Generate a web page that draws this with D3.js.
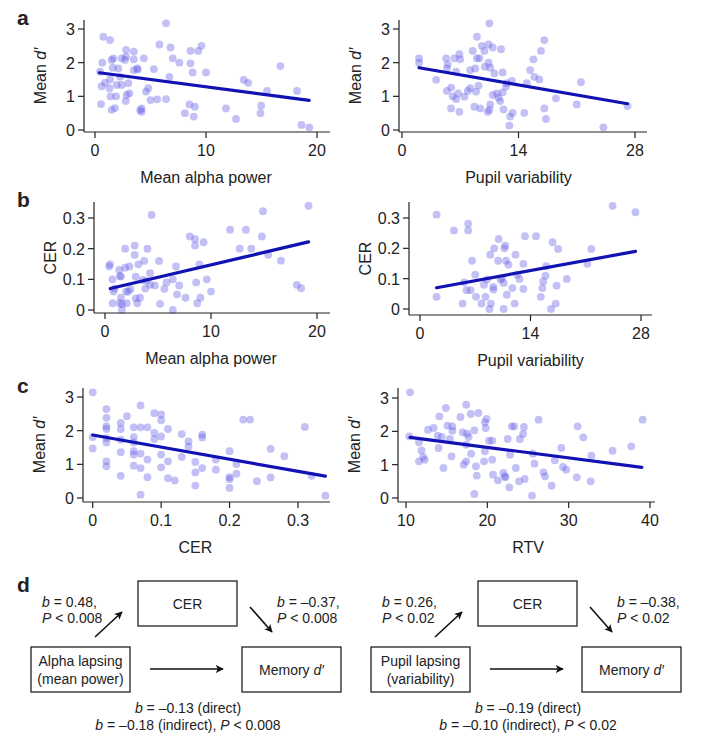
<!DOCTYPE html>
<html>
<head>
<meta charset="utf-8">
<script src="https://cdn.jsdelivr.net/npm/d3@7"></script>
<style>
body { margin: 0; background: #fff; }
text { font-family: "Liberation Sans", Arial, sans-serif; fill: #222; }
</style>
</head>
<body>
<script>
// data: [x, y]
var alphaDprime = [[0.75,2.77],[1.36,2.67],[0.66,2.0],[0.45,1.73],[0.6,1.3],[0.9,1.4],[1.36,1.5],[1.3,1.24],[1.4,1.0],[1.5,0.6],[1.8,0.65],[0.54,0.77],[1.5,2.08],[1.66,2.13],[1.6,1.85],[2.1,1.83],[1.96,1.34],[2.4,1.34],[2.26,1.58],[1.9,1.0],[2.4,2.13],[2.8,2.38],[2.8,2.18],[2.7,2.08],[3.5,2.33],[3.5,2.1],[3.0,1.39],[2.85,1.04],[3.1,1.09],[2.77,0.86],[3.5,1.78],[3.8,1.83],[3.86,1.8],[4.07,0.59],[4.2,0.64],[4.2,0.54],[4.4,2.13],[4.6,1.14],[4.8,1.24],[5.0,0.89],[5.6,0.91],[5.3,1.81],[5.8,2.54],[6.4,3.17],[6.4,0.92],[6.8,2.45],[7.0,2.13],[6.7,1.58],[7.6,2.0],[8.1,0.5],[8.5,0.76],[9.0,0.69],[8.9,0.4],[8.6,2.35],[8.6,1.98],[8.8,1.71],[9.3,2.35],[9.6,2.5],[10,1.71],[11.8,0.64],[12.7,0.33],[13.4,1.49],[13.8,1.4],[14.9,0.5],[14.97,0.72],[15.5,1.16],[16.7,1.9],[18.2,1.16],[18.6,0.15],[19.3,0.08]];
var pupilDprime = [[2.05,2.13],[2.05,2.0],[4.1,1.49],[5.3,2.13],[5.5,1.95],[5.4,1.83],[6.3,2.13],[6.9,2.25],[7.0,2.1],[6.5,1.73],[5.4,1.16],[5.9,1.26],[6.1,1.0],[6.5,0.92],[6.75,1.09],[5.9,0.64],[6.9,0.54],[7.5,0.99],[7.9,1.16],[8.2,1.24],[8.5,2.35],[9.0,2.77],[9.0,2.13],[9.3,2.13],[8.8,1.83],[8.2,1.78],[9.2,1.32],[8.9,1.14],[8.7,0.69],[9.4,0.64],[9.6,2.5],[9.9,2.35],[10.4,2.54],[10.5,3.17],[10.9,2.45],[9.96,1.88],[10.4,2.0],[10.6,1.85],[11.1,1.68],[10.6,0.76],[10.3,0.54],[10.5,0.6],[10.9,1.04],[11.4,1.09],[11.6,0.96],[11.8,0.86],[12.1,1.12],[11.9,2.4],[12.1,1.71],[12.6,1.39],[12.5,1.29],[12.2,0.61],[13.0,0.4],[13.3,0.51],[12.9,0.13],[13.2,1.46],[14.7,0.51],[15.0,1.39],[15.4,1.78],[15.9,1.58],[15.8,2.1],[16.5,1.5],[16.7,2.35],[17.1,2.67],[17.1,0.64],[17.3,0.33],[18.5,0.94],[21.0,0.76],[21.5,1.42],[24.2,0.08],[27.1,0.71]];
var alphaCER = [[0.47,0.149],[0.4,0.142],[0.7,0.1],[1.35,0.131],[1.4,0.111],[1.5,0.109],[1.9,0.138],[2.3,0.142],[1.9,0.2],[2.8,0.21],[2.8,0.18],[0.8,0.06],[0.9,0.07],[0.72,0.022],[1.4,0.022],[1.6,0.019],[1.6,0],[1.5,0.04],[2.0,0.06],[2.2,0.06],[2.4,0.068],[2.05,0.022],[2.9,0.038],[3.05,0.022],[3.3,0.04],[2.9,0.109],[3.15,0.149],[3.7,0.16],[3.55,0.098],[3.8,0.07],[3.9,0.095],[4.0,0.2],[4.25,0.12],[4.4,0.31],[4.25,0.082],[4.7,0.08],[5.2,0.02],[5.1,0.16],[5.6,0.069],[5.8,0.09],[6.4,0.1],[6.4,0],[6.7,0.142],[6.8,0.051],[7.0,0.08],[7.6,0.04],[8.0,0.24],[8.5,0.231],[8.5,0.21],[8.6,0.09],[8.7,0.022],[8.9,0.149],[9.0,0.04],[9.3,0.221],[9.6,0.1],[10.0,0.06],[11.8,0.262],[12.7,0.2],[13.3,0.262],[13.8,0.2],[14.8,0.24],[14.9,0.322],[15.4,0.18],[16.6,0.161],[18.1,0.082],[18.5,0.071],[19.2,0.34]];
var pupilCER = [[2.1,0.311],[2.1,0.04],[4.3,0.259],[6.1,0.281],[6.1,0.259],[6.6,0.159],[5.6,0.088],[5.9,0.062],[6.4,0.062],[5.4,0.018],[7.0,0.113],[7.1,0.04],[7.8,0.018],[8.1,0.08],[8.5,0.097],[8.3,0.04],[8.9,0.179],[8.8,0],[8.99,0.018],[9.3,0.064],[9.3,0.073],[9.4,0.2],[9.97,0.231],[9.9,0.159],[10.2,0.097],[10.4,0.102],[10.6,0.086],[10.6,0],[10.8,0.209],[10.7,0.2],[10.9,0.159],[11.2,0.146],[11.0,0.047],[11.7,0.069],[12.1,0.179],[12.0,0.018],[12.3,0.113],[12.6,0.099],[13.1,0.149],[13.1,0.066],[13.3,0.24],[14.7,0.24],[15.3,0.04],[15.5,0.069],[15.6,0.091],[15.9,0.11],[16.0,0.141],[16.6,0],[16.8,0.22],[17.2,0.018],[17.3,0.077],[17.5,0.198],[18.6,0.099],[21.2,0.149],[21.7,0.198],[24.4,0.34],[27.3,0.319]];
var cerDprime = [[0,3.14],[0,1.81],[0,1.47],[0.02,2.64],[0.02,2.38],[0.02,2.13],[0.02,2.05],[0.02,1.78],[0.02,1.65],[0.02,1.09],[0.02,0.94],[0.041,2.23],[0.041,2.05],[0.041,1.73],[0.041,1.36],[0.041,0.66],[0.05,2.43],[0.06,2.1],[0.06,1.81],[0.06,1.65],[0.06,1.39],[0.06,1.29],[0.06,0.96],[0.07,2.75],[0.07,2.1],[0.07,1.32],[0.07,0.89],[0.07,0.1],[0.08,2.1],[0.08,1.14],[0.08,0.62],[0.09,2.52],[0.09,1.93],[0.09,1.75],[0.1,2.48],[0.1,2.31],[0.1,1.83],[0.1,1.29],[0.1,0.91],[0.11,2.05],[0.11,1.09],[0.11,0.59],[0.12,0.52],[0.13,1.9],[0.13,1.22],[0.14,1.68],[0.14,1.53],[0.15,1.07],[0.15,0.76],[0.15,0.37],[0.16,1.88],[0.16,1.8],[0.16,0.89],[0.18,1.14],[0.18,0.84],[0.2,1.39],[0.2,0.62],[0.2,0.56],[0.2,0.3],[0.21,1.01],[0.21,0.72],[0.22,2.33],[0.23,2.33],[0.24,0.5],[0.26,1.46],[0.26,0.61],[0.28,1.24],[0.31,2.11],[0.32,0.66],[0.34,0.07]];
var rtvDprime = [[10.5,3.17],[10.4,1.85],[11.6,1.67],[11.9,1.43],[12.1,1.23],[11.6,1.1],[12.3,1.15],[12.7,2.05],[13.4,2.1],[14.1,2.45],[13.9,1.87],[14.4,1.83],[14.0,1.5],[14.6,0.9],[14.9,2.7],[15.1,2.17],[15.4,1.77],[15.7,2.15],[15.7,2.02],[15.6,1.25],[16.7,2.43],[16.97,1.97],[17.4,2.8],[17.4,1.6],[17.5,1.93],[17.7,1.83],[17.4,1.1],[17.1,1.0],[17.96,2.52],[18.0,1.33],[18.4,2.03],[18.6,0.95],[18.7,0.67],[18.4,0.12],[18.9,2.55],[19.7,2.27],[19.9,2.37],[19.8,2.1],[19.7,1.4],[19.6,1.1],[20.2,1.72],[20.6,1.72],[20.6,1.15],[20.7,0.7],[21.3,0.53],[21.97,0.75],[22.2,0.65],[22.2,0.62],[22.5,1.77],[22.8,1.3],[22.7,0.32],[23.0,2.15],[23.3,2.15],[23.5,0.9],[24.0,1.77],[23.9,0.5],[24.4,1.92],[24.5,2.13],[24.6,0.57],[25.6,1.33],[25.8,1.03],[25.5,0.07],[26.3,2.35],[26.9,0.77],[27.1,0.65],[27.9,0.37],[28.3,1.13],[29.1,1.5],[29.3,0.93],[29.7,0.85],[31.0,0.62],[31.1,2.15],[31.8,1.82],[32.8,1.27],[32.7,0.5],[35.4,1.42],[37.7,1.55],[39.1,2.35]];

// regression line endpoints as drawn
var fitAlphaDprime = [[0.4,1.7],[19.3,0.88]];
var fitPupilDprime = [[2.05,1.85],[27.1,0.78]];
var fitAlphaCER = [[0.5,0.07],[19.2,0.222]];
var fitPupilCER = [[2.1,0.07],[27.3,0.19]];
var fitCerDprime = [[0,1.87],[0.34,0.65]];
var fitRtvDprime = [[10.5,1.82],[39,0.92]];

var ticksDprime = [0, 1, 2, 3];
var ticksCER = [0, 0.1, 0.2, 0.3];
var ticksAlpha = [0, 10, 20];
var ticksPupil = [0, 14, 28];
var ticksCerX = [0, 0.1, 0.2, 0.3];
var ticksRtv = [10, 20, 30, 40];

var svg = d3.select("body").append("svg").attr("width", 705).attr("height", 747);

var panels = [
  {pts: alphaDprime, fit: fitAlphaDprime, xd: [0,20], xr: [95,317], yd: [0,3], yr: [130,29], sx: 84, ax: 132, top: 20, right: 330, xt: ticksAlpha, yt: ticksDprime, xl: "Mean alpha power", yl: "d"},
  {pts: pupilDprime, fit: fitPupilDprime, xd: [0,28], xr: [402,635], yd: [0,3], yr: [130,29], sx: 399, ax: 132, top: 20, right: 647, xt: ticksPupil, yt: ticksDprime, xl: "Pupil variability", yl: "d"},
  {pts: alphaCER, fit: fitAlphaCER, xd: [0,20], xr: [105,317], yd: [0,0.3], yr: [310,218], sx: 94, ax: 313, top: 202, right: 330, xt: ticksAlpha, yt: ticksCER, xl: "Mean alpha power", yl: "CER"},
  {pts: pupilCER, fit: fitPupilCER, xd: [0,28], xr: [420,641], yd: [0,0.3], yr: [309,218], sx: 409, ax: 315, top: 202, right: 652, xt: ticksPupil, yt: ticksCER, xl: "Pupil variability", yl: "CER"},
  {pts: cerDprime, fit: fitCerDprime, xd: [0,0.3], xr: [92.7,298], yd: [0,3], yr: [498,397], sx: 83, ax: 502, top: 388, right: 330, xt: ticksCerX, yt: ticksDprime, xl: "CER", yl: "d"},
  {pts: rtvDprime, fit: fitRtvDprime, xd: [10,40], xr: [406,650], yd: [0,3], yr: [498,398], sx: 398, ax: 502, top: 388, right: 655, xt: ticksRtv, yt: ticksDprime, xl: "RTV", yl: "d"}
];

panels.forEach(function(p){
  var x = d3.scaleLinear().domain(p.xd).range(p.xr);
  var y = d3.scaleLinear().domain(p.yd).range(p.yr);
  var g = svg.append("g");

  g.selectAll("circle").data(p.pts).enter().append("circle")
    .attr("cx", function(d){ return x(d[0]); })
    .attr("cy", function(d){ return y(d[1]); })
    .attr("r", 3.9)
    .attr("fill", "rgb(110,105,230)")
    .attr("fill-opacity", 0.42);

  g.append("line")
    .attr("x1", x(p.fit[0][0])).attr("y1", y(p.fit[0][1]))
    .attr("x2", x(p.fit[1][0])).attr("y2", y(p.fit[1][1]))
    .attr("stroke", "#1212b4").attr("stroke-width", 3.2).attr("stroke-linecap", "round");

  // spines
  g.append("line").attr("x1", p.sx).attr("x2", p.sx).attr("y1", p.top).attr("y2", p.ax)
    .attr("stroke", "#222").attr("stroke-width", 1.2);
  g.append("line").attr("x1", p.sx).attr("x2", p.right).attr("y1", p.ax).attr("y2", p.ax)
    .attr("stroke", "#222").attr("stroke-width", 1.2);

  p.yt.forEach(function(t){
    g.append("line").attr("x1", p.sx - 6).attr("x2", p.sx).attr("y1", y(t)).attr("y2", y(t))
      .attr("stroke", "#222").attr("stroke-width", 1.2);
    g.append("text").attr("x", p.sx - 9).attr("y", y(t) + 6).attr("text-anchor", "end")
      .attr("font-size", 16).text(t);
  });
  p.xt.forEach(function(t){
    g.append("line").attr("x1", x(t)).attr("x2", x(t)).attr("y1", p.ax).attr("y2", p.ax + 6)
      .attr("stroke", "#222").attr("stroke-width", 1.2);
    g.append("text").attr("x", x(t)).attr("y", p.ax + 24).attr("text-anchor", "middle")
      .attr("font-size", 16).text(t);
  });
  g.append("text").attr("x", (p.xr[0] + p.xr[1]) / 2).attr("y", p.ax + 51)
    .attr("text-anchor", "middle").attr("font-size", 16).text(p.xl);

  var yt = g.append("text")
    .attr("transform", "translate(" + (p.sx - 38) + "," + ((p.top + p.ax) / 2) + ") rotate(-90)")
    .attr("text-anchor", "middle").attr("font-size", 16);
  if (p.yl === "d") {
    yt.append("tspan").text("Mean ");
    yt.append("tspan").attr("font-style", "italic").text("d\u2032");
  } else {
    yt.text(p.yl);
  }
});

// panel letters
[["a", 17, 25], ["b", 17, 207], ["c", 17, 393], ["d", 17, 592]].forEach(function(l){
  svg.append("text").attr("x", l[1]).attr("y", l[2]).attr("font-size", 21)
    .attr("font-weight", "bold").attr("font-family", "Liberation Sans, Arial").text(l[0]);
});

// panel d mediation diagrams
svg.append("defs").append("marker").attr("id", "arr")
  .attr("viewBox", "0 0 10 10").attr("refX", 9).attr("refY", 5)
  .attr("markerWidth", 5).attr("markerHeight", 5).attr("orient", "auto")
  .append("path").attr("d", "M0,0 L10,5 L0,10 L2.5,5 Z").attr("fill", "#111");

var mediations = [
  {dx: 0, pred: ["Alpha lapsing", "(mean power)"], a: ["0.48,", "P < 0.008"], b: ["\u20130.37,", "P < 0.008"], dir: "\u20130.13", ind: "\u20130.18", p: "0.008"},
  {dx: 340, pred: ["Pupil lapsing", "(variability)"], a: ["0.26,", "P < 0.02"], b: ["\u20130.38,", "P < 0.02"], dir: "\u20130.19", ind: "\u20130.10", p: "0.02"}
];

function bp(sel, x, y, val){
  var t = sel.append("text").attr("x", x).attr("y", y).attr("font-size", 14);
  t.append("tspan").attr("font-style", "italic").text("b");
  t.append("tspan").text(" = " + val);
}
function pp(sel, x, y, val){
  var t = sel.append("text").attr("x", x).attr("y", y).attr("font-size", 14);
  t.append("tspan").attr("font-style", "italic").text("P");
  t.append("tspan").text(val.slice(1));
}

mediations.forEach(function(m){
  var g = svg.append("g").attr("transform", "translate(" + m.dx + ",0)");
  var box = function(x, y){
    g.append("rect").attr("x", x).attr("y", y).attr("width", 99).attr("height", 45)
      .attr("fill", "none").attr("stroke", "#222").attr("stroke-width", 1.3);
  };
  box(138, 581); box(31, 647); box(242, 647);
  g.append("text").attr("x", 187.5).attr("y", 609).attr("text-anchor", "middle").attr("font-size", 14).text("CER");
  g.append("text").attr("x", 80.5).attr("y", 666).attr("text-anchor", "middle").attr("font-size", 14).text(m.pred[0]);
  g.append("text").attr("x", 80.5).attr("y", 684).attr("text-anchor", "middle").attr("font-size", 14).text(m.pred[1]);
  var mem = g.append("text").attr("x", 291.5).attr("y", 675).attr("text-anchor", "middle").attr("font-size", 14);
  mem.append("tspan").text("Memory ");
  mem.append("tspan").attr("font-style", "italic").text("d\u2032");

  [[95,637,122,612],[250,607,272,632],[150,669,223,669]].forEach(function(a){
    g.append("line").attr("x1", a[0]).attr("y1", a[1]).attr("x2", a[2]).attr("y2", a[3])
      .attr("stroke", "#111").attr("stroke-width", 1.6).attr("marker-end", "url(#arr)");
  });

  bp(g, 42, 607, m.a[0]); pp(g, 42, 623, m.a[1]);
  bp(g, 277, 607, m.b[0]); pp(g, 277, 623, m.b[1]);

  var t1 = g.append("text").attr("x", 188).attr("y", 713).attr("text-anchor", "middle").attr("font-size", 14);
  t1.append("tspan").attr("font-style", "italic").text("b");
  t1.append("tspan").text(" = " + m.dir + " (direct)");
  var t2 = g.append("text").attr("x", 188).attr("y", 730).attr("text-anchor", "middle").attr("font-size", 14);
  t2.append("tspan").attr("font-style", "italic").text("b");
  t2.append("tspan").text(" = " + m.ind + " (indirect), ");
  t2.append("tspan").attr("font-style", "italic").text("P");
  t2.append("tspan").text(" < " + m.p);
});
</script>
</body>
</html>
